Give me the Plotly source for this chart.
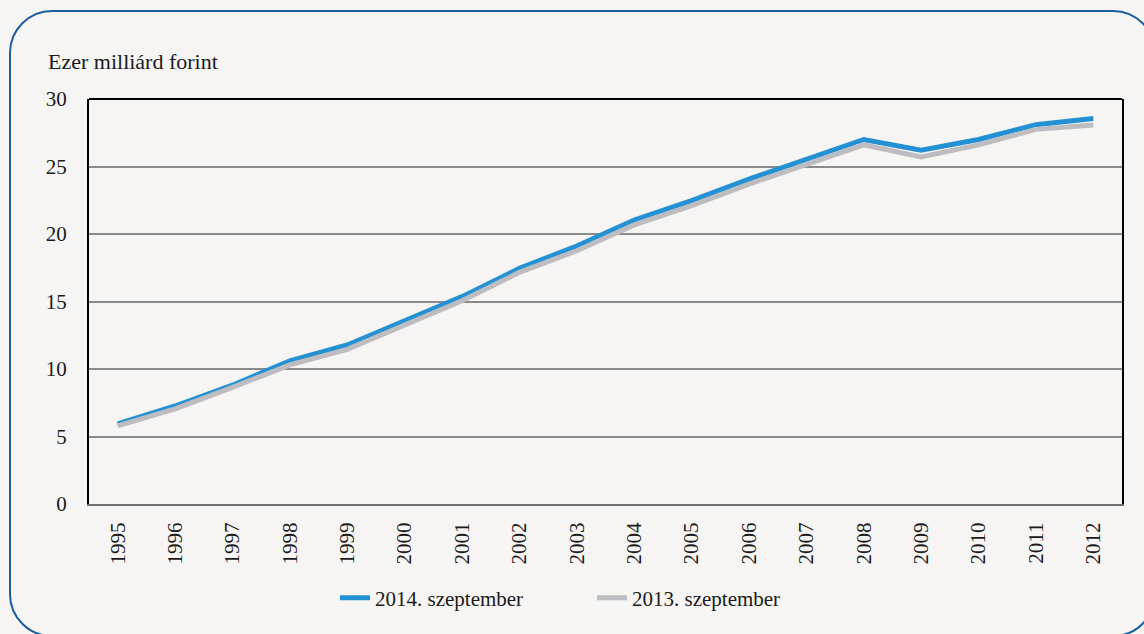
import plotly.graph_objects as go

years = [str(y) for y in range(1995, 2013)]
sep_2014 = [5.93, 7.26, 8.8, 10.6, 11.78, 13.6, 15.36, 17.46, 19.11, 21.04,
            22.47, 24.07, 25.53, 27.0, 26.2, 27.0, 28.1, 28.55]
sep_2013 = [5.78, 7.04, 8.64, 10.3, 11.46, 13.3, 15.06, 17.16, 18.76, 20.67,
            22.1, 23.7, 25.11, 26.6, 25.7, 26.6, 27.75, 28.07]
y_ticks = [0, 5, 10, 15, 20, 25, 30]

W, H = 1144, 634
L, R, T, B = 89, 1122, 99, 504
PW, PH = R - L, B - T

def px(x):
    return (x - L) / PW

def py(y):
    return (B - y) / PH

FONT = "Liberation Serif, DejaVu Serif, Times New Roman, serif"
BG = "#F6F5F3"
TXT = "#1a1a1a"

fig = go.Figure()
fig.add_trace(go.Scatter(x=years, y=sep_2014, mode="lines", name="2014. szeptember",
                         line=dict(color="#2391D3", width=5)))
fig.add_trace(go.Scatter(x=years, y=sep_2013, mode="lines", name="2013. szeptember",
                         line=dict(color="#BDBDC1", width=5)))

# rounded outer frame (pixel geometry converted to paper coords)
fl, ft, fr, fb, rad = 10, 11, 1155, 636, 42
k = rad * 0.5523
pts = [
    ("M", [(fl + rad, ft)]),
    ("L", [(fr - rad, ft)]),
    ("C", [(fr - rad + k, ft), (fr, ft + rad - k), (fr, ft + rad)]),
    ("L", [(fr, fb - rad)]),
    ("C", [(fr, fb - rad + k), (fr - rad + k, fb), (fr - rad, fb)]),
    ("L", [(fl + rad, fb)]),
    ("C", [(fl + rad - k, fb), (fl, fb - rad + k), (fl, fb - rad)]),
    ("L", [(fl, ft + rad)]),
    ("C", [(fl, ft + rad - k), (fl + rad - k, ft), (fl + rad, ft)]),
]
path = ""
for cmd, coords in pts:
    path += cmd + " " + " ".join(f"{px(x):.5f},{py(y):.5f}" for x, y in coords) + " "
path += "Z"

fig.update_layout(
    width=W, height=H,
    margin=dict(l=L, r=W - R, t=T, b=H - B),
    paper_bgcolor=BG, plot_bgcolor=BG,
    font=dict(family=FONT, size=21, color=TXT),
    showlegend=True,
    legend=dict(orientation="h", x=px(335), xanchor="left", y=py(598), yanchor="middle",
                bgcolor="rgba(0,0,0,0)", font=dict(family=FONT, size=21, color=TXT),
                entrywidth=212, traceorder="normal"),
    xaxis=dict(type="category", range=[-0.5, 17.5], tickangle=-90, showgrid=False,
               showline=True, linecolor="#6e6e6e", linewidth=2, ticks="",
               ticklabelstandoff=8, tickfont=dict(family=FONT, size=21, color=TXT),
               zeroline=False),
    yaxis=dict(range=[0, 30], tickvals=y_ticks, showgrid=True, gridcolor="#8a8a8a",
               gridwidth=1.5, showline=True, linecolor="#000000", linewidth=2, mirror=True,
               ticks="", zeroline=False, ticklabelstandoff=16,
               tickfont=dict(family=FONT, size=21, color=TXT)),
    shapes=[
        dict(type="path", xref="paper", yref="paper", path=path,
             line=dict(color="#1B5E9E", width=2), fillcolor="rgba(0,0,0,0)", layer="below"),
        dict(type="line", xref="paper", yref="paper", x0=0, x1=1, y0=1, y1=1,
             line=dict(color="#000000", width=2), layer="above"),
    ],
    annotations=[
        dict(text="Ezer milliárd forint", xref="paper", yref="paper", x=px(46), y=py(62),
             xanchor="left", yanchor="middle", showarrow=False,
             font=dict(family=FONT, size=22, color=TXT)),
    ],
)

fig.write_html(
    "out.html",
    config={"displayModeBar": False},
    post_script="document.body.style.margin='0';document.body.style.background='#F6F5F3';"
                "document.documentElement.style.overflow='hidden';",
)
